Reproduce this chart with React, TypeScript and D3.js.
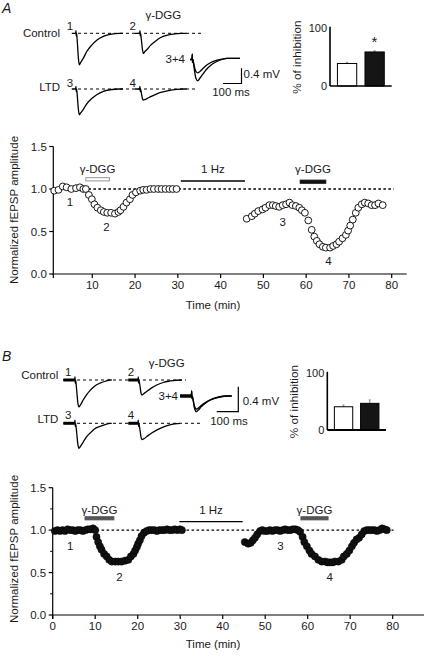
import React from 'react';
import * as d3 from 'd3';

const FONT = '"Liberation Sans", Arial, Helvetica, sans-serif';

// ---------- Time course data (panel A, open circles) ----------
const timeA1 = [1.1,2.1,3.1,4.0,5.1,6.2,7.1,7.9,8.5,9.2,9.9,10.5,11.2,12.0,12.7,13.5,14.4,15.3,16.1,16.6,17.3,18.0,18.8,19.4,20.2,21.2,21.9,22.7,23.6,24.4,25.4,26.2,27.1,28.0,28.8,29.7];
const ampA1 = [0.98,0.99,1.03,1.02,1.0,1.01,1.02,1.0,1.0,0.93,0.88,0.82,0.78,0.75,0.73,0.72,0.72,0.71,0.73,0.75,0.79,0.84,0.88,0.93,0.96,0.98,0.99,0.99,1.0,1.0,1.0,1.0,1.0,1.0,1.0,1.0];
const timeA2 = [46.1,47.3,48.0,48.8,49.8,50.5,51.4,52.2,52.9,53.7,54.5,55.3,56.1,56.8,57.6,58.4,59.0,59.7,60.5,61.3,61.9,62.5,63.1,63.9,64.6,65.6,66.3,67.1,67.7,68.5,69.3,69.8,70.3,70.9,71.6,72.2,73.0,73.7,74.5,75.3,76.1,76.9,77.9];
const ampA2 = [0.65,0.68,0.71,0.74,0.76,0.78,0.81,0.81,0.80,0.79,0.81,0.82,0.84,0.81,0.80,0.78,0.75,0.72,0.63,0.52,0.44,0.39,0.35,0.32,0.31,0.31,0.33,0.35,0.38,0.42,0.46,0.51,0.57,0.64,0.72,0.78,0.82,0.84,0.83,0.81,0.81,0.83,0.81];

// ---------- Time course data (panel B, filled circles) ----------
const timeB1 = [0.5,1.1,1.7,2.3,2.9,3.5,4.1,4.7,5.3,5.9,6.5,7.1,7.7,8.3,8.9,9.5,10.0,10.3,10.7,11.1,11.5,12.1,12.7,13.3,13.9,14.7,15.4,16.2,17.0,17.8,18.4,19.0,19.4,19.8,20.1,20.5,20.9,21.5,22.1,22.7,23.3,23.9,24.5,25.1,25.7,26.3,26.9,27.5,28.1,28.7,29.3,29.9,30.4];
const ampB1 = [0.99,1.0,0.99,1.0,0.99,1.01,1.0,1.0,0.99,1.0,1.0,0.99,1.0,1.01,1.01,1.02,1.0,0.92,0.86,0.81,0.77,0.72,0.69,0.65,0.63,0.63,0.63,0.63,0.64,0.65,0.69,0.72,0.76,0.80,0.84,0.88,0.93,0.97,0.99,1.0,1.0,1.0,0.99,1.0,1.0,1.0,1.01,1.0,1.0,1.01,1.0,1.01,1.0];
const timeB2 = [45.2,46.0,46.6,47.1,47.6,48.1,48.8,49.3,49.9,50.5,51.1,51.7,52.3,52.9,53.5,54.1,54.7,55.3,55.9,56.5,57.1,57.7,58.2,58.8,59.2,59.8,60.4,60.9,61.7,62.5,63.3,64.1,64.7,65.2,65.8,66.4,67.2,68.0,68.5,69.2,69.8,70.4,70.9,71.5,72.1,72.7,73.3,73.9,74.5,75.1,75.7,76.3,76.9,77.5,78.1,78.6];
const ampB2 = [0.86,0.84,0.85,0.88,0.91,0.95,0.99,1.0,0.99,0.99,1.0,0.99,1.0,1.0,0.99,1.0,1.01,1.0,1.0,1.01,1.01,1.0,0.98,0.92,0.86,0.81,0.76,0.72,0.69,0.65,0.63,0.63,0.62,0.62,0.62,0.63,0.63,0.65,0.69,0.72,0.76,0.81,0.85,0.89,0.91,0.95,0.99,1.0,1.0,1.0,1.0,0.99,1.0,1.02,1.01,1.0];

// ---------- Axis ticks ----------
const xTicksA = [10,20,30,40,50,60,70,80];
const xTicksB = [0,10,20,30,40,50,60,70,80];
const yTicks = [0,0.5,1.0,1.5];
const yMinorTicks = [0.25,0.75,1.25];

// ---------- Drug / stimulation periods (min) ----------
const dggA = [[8.5,14.0],[58.6,64.6]];
const hzA = [30.7,45.7];
const dggB = [[7.6,14.4],[58.4,64.8]];
const hzB = [29.8,44.7];

// ---------- Inset bars: % of inhibition ----------
const inhCats = ['Control','LTD'];
const inhA = [39,59];
const inhErrA = [2,2];
const inhB = [41,47];
const inhErrB = [3,6];
const inhTicks = [0,100];

// ---------- fEPSP traces: [ms from stimulus, mV] ----------
const trA1 = [[-23,0],[-2,0],[0,0.07],[1,-0.07],[2,0.01],[4,-0.04],[8,-0.29],[13,-0.66],[18,-0.83],[25,-0.77],[39,-0.66],[58,-0.48],[85,-0.31],[112,-0.18],[148,-0.08],[184,-0.03],[238,0],[254,0]];
const trA2 = [[-27,0],[-2,0],[0,0.07],[1,-0.07],[2,0.01],[4,-0.03],[8,-0.19],[13,-0.42],[18,-0.53],[25,-0.49],[39,-0.42],[58,-0.31],[85,-0.2],[112,-0.11],[148,-0.05],[178,-0.02],[220,0],[252,0]];
const trA3 = [[-23,0],[-2,0],[0,0.07],[1,-0.07],[2,0.01],[4,-0.03],[8,-0.24],[13,-0.54],[18,-0.68],[25,-0.63],[39,-0.54],[58,-0.39],[85,-0.25],[112,-0.15],[148,-0.06],[184,-0.02],[238,0],[254,0]];
const trA4 = [[-27,0],[-2,0],[0,0.07],[1,-0.07],[2,0.01],[4,-0.02],[8,-0.12],[13,-0.25],[18,-0.29],[25,-0.28],[39,-0.25],[58,-0.2],[85,-0.14],[112,-0.09],[148,-0.05],[200,-0.01],[230,0],[252,0]];
const trA34a = [[-12,0],[-2,0],[0,0.14],[1,-0.08],[2,0.01],[5,-0.05],[12,-0.3],[20,-0.5],[30,-0.56],[40,-0.5],[55,-0.4],[75,-0.27],[100,-0.15],[130,-0.06],[160,0.0],[186,0.03],[258,0.03]];
const trA34b = [[-12,0],[-2,0],[0,0.14],[1,-0.08],[2,0.01],[5,-0.04],[12,-0.2],[20,-0.32],[30,-0.35],[40,-0.32],[55,-0.25],[75,-0.16],[100,-0.08],[130,-0.02],[160,0.01],[186,0.03],[258,0.03]];

const trB1 = [[-54,0],[-2,0],[0,0.05],[1,-0.05],[2,0],[4,-0.03],[8,-0.17],[13,-0.36],[18,-0.43],[25,-0.4],[38,-0.32],[55,-0.23],[69,-0.17],[90,-0.1],[116,-0.05],[140,-0.02],[162,0],[170,0]];
const trB2 = [[-46,0],[-2,0],[0,0.05],[1,-0.05],[2,0],[4,-0.02],[8,-0.1],[12,-0.2],[16,-0.24],[25,-0.22],[40,-0.18],[60,-0.13],[85,-0.08],[115,-0.04],[140,-0.02],[160,-0.01],[201,0]];
const trB3 = [[-54,0],[-2,0],[0,0.05],[1,-0.05],[2,0],[4,-0.03],[8,-0.16],[13,-0.33],[18,-0.40],[25,-0.37],[38,-0.3],[55,-0.21],[69,-0.16],[90,-0.09],[116,-0.05],[140,-0.02],[162,0],[170,0]];
const trB4 = [[-46,0],[-2,0],[0,0.05],[1,-0.05],[2,0],[4,-0.02],[8,-0.11],[12,-0.21],[16,-0.26],[25,-0.25],[40,-0.21],[60,-0.16],[85,-0.11],[115,-0.06],[150,-0.02],[178,-0.005],[193,0]];
const trB34a = [[-54,0],[-2,0],[0,0.08],[1,-0.04],[2,0],[5,-0.04],[12,-0.18],[18,-0.24],[23,-0.25],[32,-0.22],[45,-0.17],[65,-0.11],[90,-0.06],[120,-0.025],[162,0],[185,0]];
const trB34b = [[-54,0],[-2,0],[0,0.08],[1,-0.04],[2,0],[5,-0.03],[12,-0.15],[18,-0.2],[23,-0.21],[32,-0.19],[45,-0.15],[65,-0.1],[90,-0.055],[120,-0.02],[162,0],[185,0]];

// ---------- helpers ----------
function tracePath(pts: number[][], ox: number, oy: number, px100ms: number, px04mV: number) {
  const x = d3.scaleLinear().domain([0, 100]).range([ox, ox + px100ms]);
  const y = d3.scaleLinear().domain([0, 0.4]).range([oy, oy - px04mV]);
  return d3.line<number[]>().x(d => x(d[0])).y(d => y(d[1])).curve(d3.curveMonotoneX)(pts) || '';
}

const txt = (x: number, y: number, s: string, anchor: string = 'middle', size = 11.5, extra: any = {}) => (
  <text x={x} y={y} textAnchor={anchor as any} fontFamily={FONT} fontSize={size} fill="#1a1a1a" {...extra}>{s}</text>
);

function Traces(p: any) {
  const { tr, ms, mv, thickPre } = p;
  return (
    <g fill="none" stroke="#000" strokeLinejoin="round">
      {tr.map((t: any, i: number) => (
        <g key={i}>
          <path d={tracePath(t.pts, t.ox, t.oy, ms, mv)} strokeWidth={1.3} />
          {thickPre && <path d={tracePath(t.pts.filter((d: number[]) => d[0] <= -2 || d[0] === t.pts[0][0]), t.ox, t.oy, ms, mv)} strokeWidth={3} />}
        </g>
      ))}
    </g>
  );
}

function TimeCourse(p: any) {
  const { x, y, axisX0, axisX1, xTicks, series, filled, dgg, hz, dggFill, dggStroke, barY, hzY, labelY, nums, minor, dashEnd } = p;
  const y0 = y(0);
  const ax = axisX0;
  return (
    <g>
      <line x1={x(0.9)} x2={x(dashEnd)} y1={y(1)} y2={y(1)} stroke="#000" strokeWidth={1.3} strokeDasharray="2.6,2.4" />
      <line x1={ax} x2={ax} y1={y0 + 4} y2={y(1.5)} stroke="#000" strokeWidth={1.2} />
      <line x1={ax} x2={axisX1} y1={y0} y2={y0} stroke="#000" strokeWidth={1.2} />
      {yTicks.map(t => (
        <g key={'y' + t}>
          <line x1={ax - 4} x2={ax} y1={y(t)} y2={y(t)} stroke="#000" strokeWidth={1.2} />
          {txt(ax - 6.5, y(t), t.toFixed(1), 'end', 11.5, { dominantBaseline: 'central' })}
        </g>
      ))}
      {minor && yMinorTicks.map(t => (
        <line key={'m' + t} x1={ax - 2.5} x2={ax} y1={y(t)} y2={y(t)} stroke="#000" strokeWidth={1} />
      ))}
      {xTicks.map((t: number) => (
        <g key={'x' + t}>
          <line x1={x(t)} x2={x(t)} y1={y0} y2={y0 + 4} stroke="#000" strokeWidth={1.2} />
          {txt(x(t), y0 + 14.5, String(t))}
        </g>
      ))}
      {dgg.map((d: number[], i: number) => (
        <g key={'d' + i}>
          <rect x={x(d[0])} y={barY[i] - 1.6} width={x(d[1]) - x(d[0])} height={3.2} fill={dggFill[i]} stroke={dggStroke[i]} strokeWidth={0.9} />
          {txt((x(d[0]) + x(d[1])) / 2, labelY, 'γ-DGG')}
        </g>
      ))}
      <line x1={x(hz[0])} x2={x(hz[1])} y1={hzY} y2={hzY} stroke="#000" strokeWidth={1.3} />
      {txt((x(hz[0]) + x(hz[1])) / 2, labelY, '1 Hz')}
      {series.map((s: any, si: number) => s.t.map((t: number, i: number) => (
        <circle key={si + '-' + i} cx={x(t)} cy={y(s.v[i])} r={filled ? 3.6 : 3.4}
          fill={filled ? '#111' : '#fff'} stroke="#000" strokeWidth={filled ? 0.5 : 0.9} />
      )))}
      {nums.map((n: any) => txt(x(n[1]), y(n[2]), n[0], 'middle', 11.5, { dominantBaseline: 'central', key: 'n' + n[0] }))}
    </g>
  );
}

function Inset(p: any) {
  const { axX, axX1, y0, y100, vals, errs, thickX } = p;
  const y = d3.scaleLinear().domain([0, 100]).range([y0, y100]);
  const xb = d3.scaleBand().domain(inhCats).range([axX, axX1]).paddingInner(0.3).paddingOuter(0.27);
  return (
    <g>
      {inhCats.map((c, i) => (
        <g key={c}>
          <line x1={xb(c)! + xb.bandwidth() / 2} x2={xb(c)! + xb.bandwidth() / 2} y1={y(vals[i])} y2={y(vals[i] + errs[i])} stroke="#888" strokeWidth={1} />
          <line x1={xb(c)! + xb.bandwidth() / 2 - 1} x2={xb(c)! + xb.bandwidth() / 2 + 1} y1={y(vals[i] + errs[i])} y2={y(vals[i] + errs[i])} stroke="#888" strokeWidth={1} />
          <rect x={xb(c)} y={y(vals[i])} width={xb.bandwidth()} height={y(0) - y(vals[i])}
            fill={i === 0 ? '#fff' : '#151515'} stroke="#000" strokeWidth={1} />
        </g>
      ))}
      <line x1={axX} x2={axX} y1={y(0)} y2={y(100) - 1.5} stroke="#000" strokeWidth={1.6} />
      <line x1={axX} x2={axX1} y1={y(0)} y2={y(0)} stroke="#000" strokeWidth={thickX} />
      {inhTicks.map(t => txt(axX - 3, y(t), String(t), 'end', 11, { dominantBaseline: 'central', key: 't' + t }))}
      {txt(0, 0, '% of inhibition', 'middle', 11.8, { transform: `translate(${axX - 33},${(y(0) + y(100)) / 2}) rotate(-90)`, dominantBaseline: 'central' })}
    </g>
  );
}

export default function App() {
  const xA = d3.scaleLinear().domain([0, 80]).range([49.5, 391.7]);
  const yA = d3.scaleLinear().domain([0, 1.5]).range([274, 146.5]);
  const xB = d3.scaleLinear().domain([0, 80]).range([52.7, 392.7]);
  const yB = d3.scaleLinear().domain([0, 1.5]).range([615, 487.7]);

  const A_MS = 18.5, A_MV = 15.2;
  const B_MS = 21.6, B_MV = 25;

  const tracesA = [
    { pts: trA1, ox: 76, oy: 33.3 },
    { pts: trA2, ox: 140, oy: 33.3 },
    { pts: trA3, ox: 76, oy: 89 },
    { pts: trA4, ox: 140, oy: 89 },
    { pts: trA34a, ox: 192.3, oy: 59.5 },
    { pts: trA34b, ox: 192.3, oy: 59.5 },
  ];
  const tracesB = [
    { pts: trB1, ox: 75, oy: 380 },
    { pts: trB2, ox: 138.3, oy: 380 },
    { pts: trB3, ox: 75, oy: 423.3 },
    { pts: trB4, ox: 138.3, oy: 423.3 },
    { pts: trB34a, ox: 191.7, oy: 396 },
    { pts: trB34b, ox: 191.7, oy: 396 },
  ];

  return (
    <svg width={424} height={656} viewBox="0 0 424 656" style={{ position: 'absolute', left: 0, top: 0, background: '#fff' }}>
      <rect x={0} y={0} width={424} height={656} fill="#fff" />
      {/* ================= Panel A ================= */}
      {txt(2, 12.5, 'A', 'start', 14, { fontStyle: 'italic' })}
      <line x1={78} x2={203} y1={33.3} y2={33.3} stroke="#000" strokeWidth={1} strokeDasharray="3,3" />
      <line x1={78} x2={197} y1={89} y2={89} stroke="#000" strokeWidth={1} strokeDasharray="3,3" />
      <Traces tr={tracesA} ms={A_MS} mv={A_MV} />
      {txt(60, 36.5, 'Control', 'end')}
      {txt(60, 91, 'LTD', 'end')}
      {txt(70, 30, '1')}
      {txt(132.7, 30, '2')}
      {txt(70, 86.5, '3')}
      {txt(132.7, 86.5, '4')}
      {txt(163.3, 19, 'γ-DGG')}
      {txt(185, 62.5, '3+4', 'end')}
      <path d={`M${241.5 - A_MS},83.5H241.5V${83.5 - A_MV}`} fill="none" stroke="#000" strokeWidth={1.2} />
      {txt(243.5, 78, '0.4 mV', 'start')}
      {txt(231, 96, '100 ms')}

      <Inset axX={330} axX1={391.7} y0={86} y100={28.3} vals={inhA} errs={inhErrA} thickX={1.6} />
      {txt(374.3, 46.5, '*', 'middle', 15)}

      <TimeCourse x={xA} y={yA} axisX0={53.3} axisX1={406.7} xTicks={xTicksA}
        series={[{ t: timeA1, v: ampA1 }, { t: timeA2, v: ampA2 }]} filled={false}
        dgg={dggA} hz={hzA} dggFill={['#fff', '#111']} dggStroke={['#888', '#111']}
        barY={[179.3, 181.7]} hzY={181} labelY={173} minor={false} dashEnd={80.5}
        nums={[['1', 4.8, 0.85], ['2', 13.3, 0.55], ['3', 54.5, 0.61], ['4', 65.2, 0.15]]} />
      {txt(0, 0, 'Normalized fEPSP amplitude', 'middle', 11.5, { transform: 'translate(14,210) rotate(-90)', dominantBaseline: 'central' })}
      {txt(213, 309, 'Time (min)')}

      {/* ================= Panel B ================= */}
      {txt(2, 361, 'B', 'start', 14, { fontStyle: 'italic' })}
      <line x1={77} x2={186} y1={380} y2={380} stroke="#000" strokeWidth={1} strokeDasharray="3,3" />
      <line x1={77} x2={200} y1={423.3} y2={423.3} stroke="#000" strokeWidth={1} strokeDasharray="3,3" />
      <Traces tr={tracesB} ms={B_MS} mv={B_MV} thickPre={true} />
      {txt(58.3, 379, 'Control', 'end')}
      {txt(58.3, 423, 'LTD', 'end')}
      {txt(68.3, 375.5, '1')}
      {txt(131, 375.5, '2')}
      {txt(68.3, 419, '3')}
      {txt(131, 419, '4')}
      {txt(166.7, 367, 'γ-DGG')}
      {txt(178, 400, '3+4', 'end')}
      <path d={`M${238.3 - B_MS},411.7H238.3V${411.7 - B_MV}`} fill="none" stroke="#000" strokeWidth={1.2} />
      {txt(242.7, 404.5, '0.4 mV', 'start')}
      {txt(229, 424.5, '100 ms')}

      <Inset axX={327.3} axX1={386} y0={430} y100={373.3} vals={inhB} errs={inhErrB} thickX={2.2} />

      <TimeCourse x={xB} y={yB} axisX0={52.7} axisX1={424} xTicks={xTicksB}
        series={[{ t: timeB1, v: ampB1 }, { t: timeB2, v: ampB2 }]} filled={true}
        dgg={dggB} hz={hzB} dggFill={['#555', '#555']} dggStroke={['#555', '#555']}
        barY={[518.3, 518.3]} hzY={521.7} labelY={513.5} minor={true} dashEnd={80.2}
        nums={[['1', 4.1, 0.81], ['2', 15.7, 0.45], ['3', 53.6, 0.81], ['4', 65.2, 0.45]]} />
      {txt(0, 0, 'Normalized fEPSP amplitude', 'middle', 11.5, { transform: 'translate(14,549) rotate(-90)', dominantBaseline: 'central' })}
      {txt(213, 648, 'Time (min)')}
    </svg>
  );
}
